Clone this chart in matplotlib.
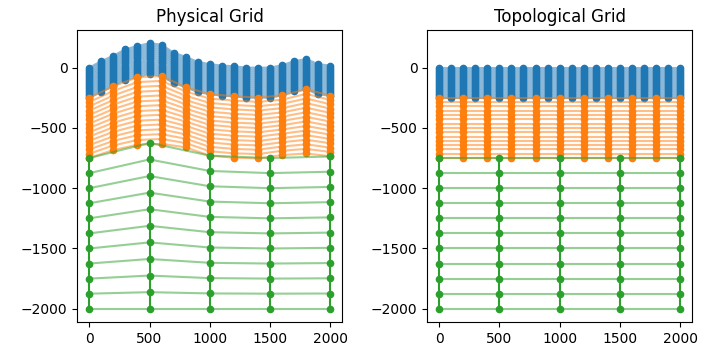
import numpy as np
import matplotlib
matplotlib.use("Agg")
import matplotlib.pyplot as plt

# column positions of each layer
x_blue = np.arange(0, 2001, 100)
x_orange = np.arange(0, 2001, 200)
x_green = np.arange(0, 2001, 500)

# physical surfaces
blue_top = [0, 54, 99, 152, 180, 202, 191, 124, 90, 48, 29, 17, 12, 0, 0, 0, 20, 54, 71, 29, 17]
blue_bot = [-250, -198, -155, -100, -80, -50, -70, -128, -162, -203, -220, -233, -237, -250,
            -248, -250, -230, -197, -180, -222, -232]
orange_top = [-250, -155, -80, -70, -162, -220, -237, -248, -230, -180, -232]
orange_bot = [-750, -683, -640, -632, -661, -730, -747, -753, -725, -712, -735]
green_top = [-750, -624, -730, -750, -737]
green_bot = [-2000, -2000, -2000, -2000, -2000]

# topological surfaces
topo_blue = (0, -250)
topo_orange = (-250, -750)
topo_green = (-750, -2000)

# number of levels per layer
n_blue, n_orange, n_green = 16, 15, 11

colors = ['tab:blue', 'tab:orange', 'tab:green']


def draw_layer(ax, x, top, bot, n, c):
    t = np.linspace(0, 1, n)[:, None]
    top = np.broadcast_to(np.asarray(top, float), (len(x),))
    bot = np.broadcast_to(np.asarray(bot, float), (len(x),))
    Z = top + (bot - top) * t
    X = np.broadcast_to(x, Z.shape)
    ax.plot(X.T, Z.T, '-', color=c, alpha=0.5, lw=1.5)   # rows
    ax.plot(X, Z, 'o-', color=c, ms=4.5, lw=1.5)          # columns


fig, (ax1, ax2) = plt.subplots(1, 2, figsize=(7.02, 3.47), dpi=100, sharey=True)
fig.subplots_adjust(left=0.11, right=0.986, bottom=0.072, top=0.9135, wspace=0.32)

draw_layer(ax1, x_blue, blue_top, blue_bot, n_blue, colors[0])
draw_layer(ax1, x_orange, orange_top, orange_bot, n_orange, colors[1])
draw_layer(ax1, x_green, green_top, green_bot, n_green, colors[2])
ax1.set_title('Physical Grid')

draw_layer(ax2, x_blue, *topo_blue, n_blue, colors[0])
draw_layer(ax2, x_orange, *topo_orange, n_orange, colors[1])
draw_layer(ax2, x_green, *topo_green, n_green, colors[2])
ax2.set_title('Topological Grid')
ax2.yaxis.set_tick_params(labelleft=True)

for ax in (ax1, ax2):
    ax.set_xticks([0, 500, 1000, 1500, 2000])
    ax.set_yticks([0, -500, -1000, -1500, -2000])

fig.savefig('out.png', dpi=100)
